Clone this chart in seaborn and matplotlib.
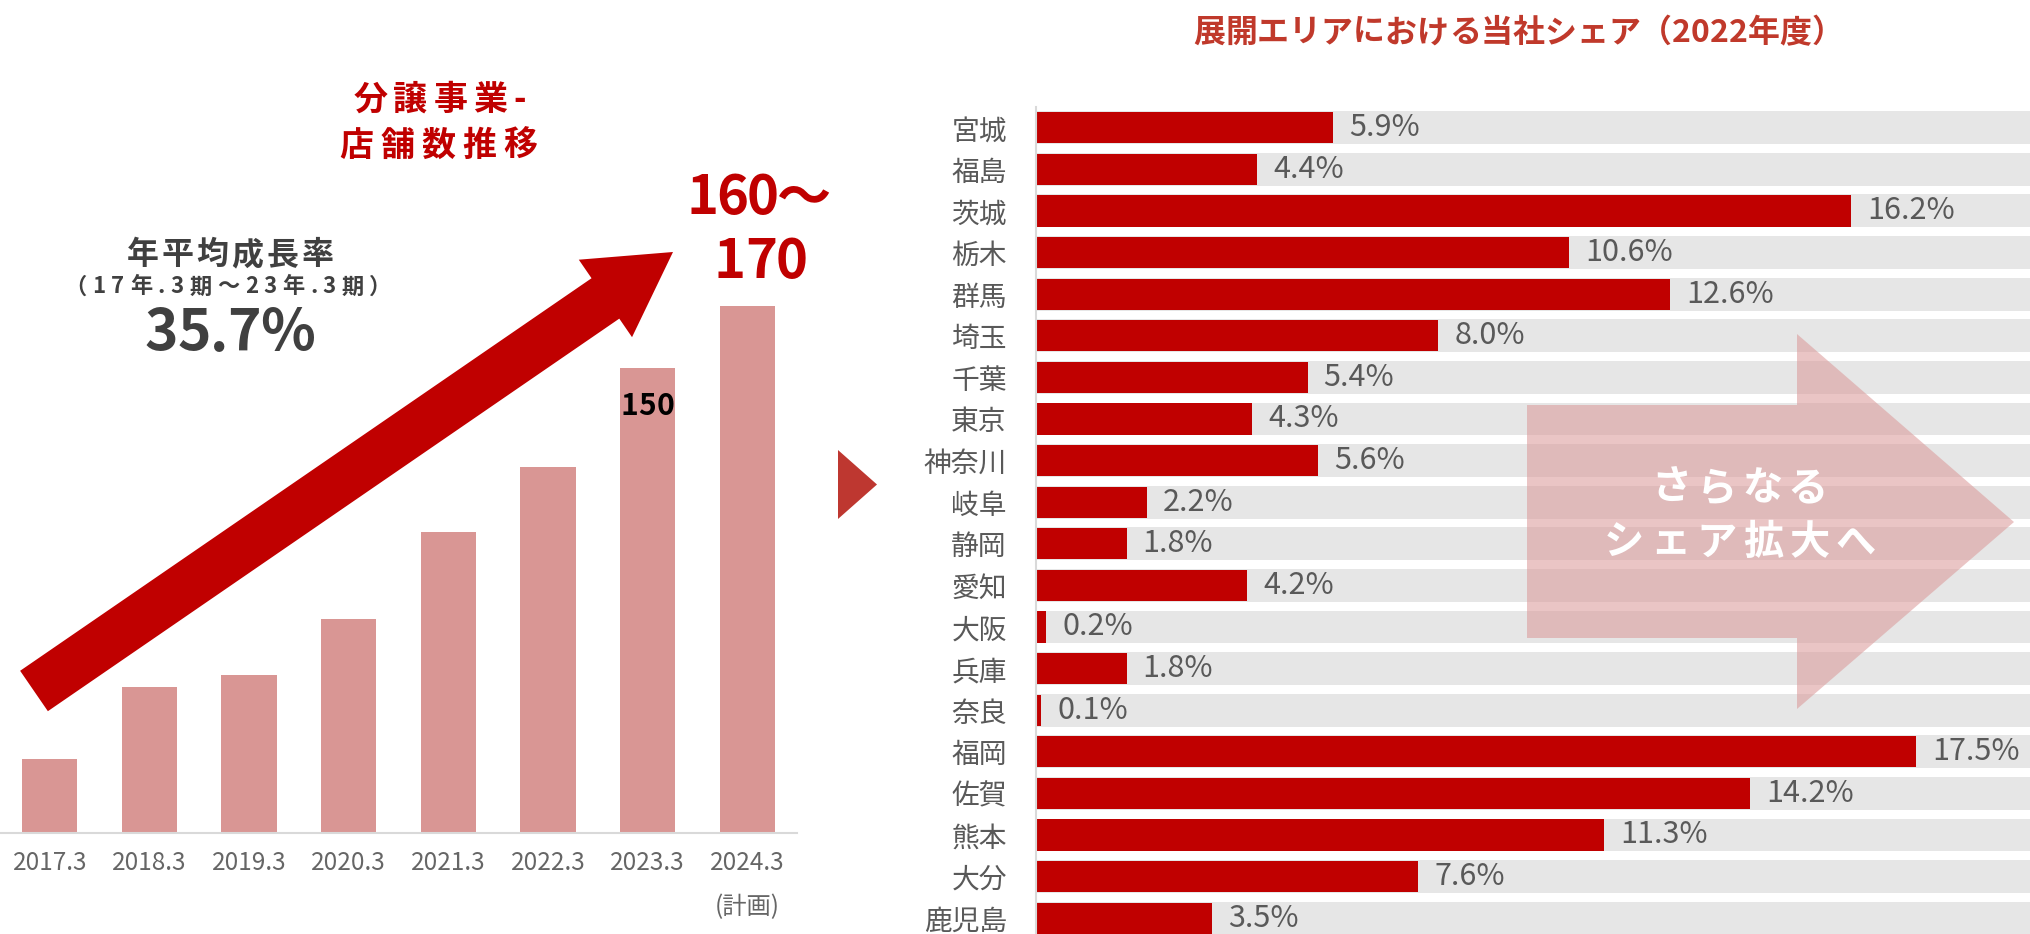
import numpy as np
import pandas as pd
import matplotlib
matplotlib.use("Agg")
import matplotlib.pyplot as plt
import seaborn as sns
from matplotlib.patches import Polygon
from matplotlib.font_manager import FontProperties, findfont, get_font

# ---------------- data ----------------
years = ["2017.3", "2018.3", "2019.3", "2020.3", "2021.3", "2022.3", "2023.3", "2024.3\n(計画)"]
stores = [24, 47, 51, 69, 97, 118, 150, 170]

prefectures = ["宮城", "福島", "茨城", "栃木", "群馬", "埼玉", "千葉", "東京", "神奈川", "岐阜",
               "静岡", "愛知", "大阪", "兵庫", "奈良", "福岡", "佐賀", "熊本", "大分", "鹿児島"]
share = [5.9, 4.4, 16.2, 10.6, 12.6, 8.0, 5.4, 4.3, 5.6, 2.2,
         1.8, 4.2, 0.2, 1.8, 0.1, 17.5, 14.2, 11.3, 7.6, 3.5]
share_track = [100] * len(prefectures)

left_title = ["分譲事業-", "店舗数推移"]
cagr_title = "年平均成長率"
cagr_period = "（17年.3期～23年.3期）"
cagr_value = "35.7%"
plan_text = ["160～", "170"]
bar_note = "150"
right_title = "展開エリアにおける当社シェア（2022年度）"
arrow_text = ["さらなる", "シェア拡大へ"]

# ---------------- setup ----------------
W, H, DPI = 2031, 934, 100
sns.set_theme(style="white")
plt.rcParams["font.family"] = ["Noto Sans CJK JP", "DejaVu Sans"]
fig = plt.figure(figsize=(W / DPI, H / DPI), dpi=DPI)
fig.patch.set_facecolor("white")


def px_axes(x0, y_top, x1, y_bot):
    return fig.add_axes([x0 / W, 1 - y_bot / H, (x1 - x0) / W, (y_bot - y_top) / H])


# ---------------- left chart ----------------
ax1 = px_axes(0, 233, 797, 833)
df1 = pd.DataFrame({"year": years, "stores": stores})
sns.barplot(data=df1, x="year", y="stores", color="#D99694", saturation=1,
            width=0.555, errorbar=None, linewidth=0, ax=ax1)
ax1.set_xlim(-0.5, 7.5)
ax1.set_ylim(0, 600 / 3.1)
ax1.set_facecolor("none")
for s in ["top", "right", "left"]:
    ax1.spines[s].set_visible(False)
ax1.spines["bottom"].set_color("#D9D9D9")
ax1.spines["bottom"].set_linewidth(1.5)
ax1.set_yticks([])
ax1.set_xlabel("")
ax1.set_ylabel("")
ax1.tick_params(axis="x", length=0, pad=12, labelsize=17.5, labelcolor="#666666")
for lbl in ax1.get_xticklabels():
    lbl.set_linespacing(1.9)

# ---------------- right chart ----------------
ax2 = px_axes(1036, 106.9, 2031, 934)
df2 = pd.DataFrame({"pref": prefectures, "share": share, "track": share_track})
sns.barplot(data=df2, y="pref", x="track", color="#E6E6E6", saturation=1,
            width=0.79, errorbar=None, linewidth=0, ax=ax2)
sns.barplot(data=df2, y="pref", x="share", color="#C00000", saturation=1,
            width=0.75, errorbar=None, linewidth=0, ax=ax2)
ax2.set_xlim(0, 995 / 50.3)
ax2.set_ylim(19.38, -0.5)
ax2.set_facecolor("none")
for s in ["top", "right", "bottom"]:
    ax2.spines[s].set_visible(False)
ax2.spines["left"].set_color("#D9D9D9")
ax2.spines["left"].set_linewidth(1.5)
ax2.spines["left"].set_zorder(5)
ax2.set_xticks([])
ax2.set_xlabel("")
ax2.set_ylabel("")
ax2.tick_params(axis="y", length=0, pad=21, labelsize=20, labelcolor="#595959")
for i, v in enumerate(share):
    ax2.annotate(f"{v:.1f}%", xy=(v, i), xytext=(16, 0), textcoords="offset pixels",
                 ha="left", va="center", fontsize=22, color="#595959")

# ---------------- overlay (decorations & free text) ----------------
ov = fig.add_axes([0, 0, 1, 1])
ov.set_xlim(0, W)
ov.set_ylim(H, 0)
ov.axis("off")
ov.patch.set_alpha(0)
ov.set_zorder(10)


def spaced(cx, cy, s, size, track=0.0, color="black", weight="normal", k=0.38, z=12):
    fp = FontProperties(family=["Noto Sans CJK JP"], weight=weight, size=size)
    font = get_font(findfont(fp))
    font.set_size(size, DPI)
    em = size * DPI / 72
    pen = 0.0
    xs, left, right = [], None, None
    for c in s:
        g = font.load_char(ord(c))
        bx = g.horiBearingX / 64
        w = g.width / 64
        xs.append(pen)
        if c.strip():
            l, r = pen + bx, pen + bx + w
            left = l if left is None else min(left, l)
            right = r if right is None else max(right, r)
        pen += g.linearHoriAdvance / 65536 + track
    off = cx - (left + right) / 2
    base = cy + k * em
    for c, x in zip(s, xs):
        if c.strip():
            ov.text(x + off, base, c, ha="left", va="baseline", fontproperties=fp,
                    color=color, zorder=z)


# big red growth arrow
tail = np.array([34.0, 691.0])
tip = np.array([673.0, 252.0])
u = (tip - tail) / np.linalg.norm(tip - tail)
n = np.array([-u[1], u[0]])
hb = tip - u * 82
shaft, head = 24.5, 47
pts = [tail - n * shaft, hb - n * shaft, hb - n * head, tip, hb + n * head, hb + n * shaft, tail + n * shaft]
ov.add_patch(Polygon(pts, closed=True, facecolor="#C00000", edgecolor="none", zorder=11))

# small pointer triangle
ov.add_patch(Polygon([(838, 450), (838, 519), (877, 484.5)], closed=True,
                     facecolor="#BE3730", edgecolor="none", zorder=11))

# translucent block arrow
ov.add_patch(Polygon([(1527, 405), (1797, 405), (1797, 334), (2014, 522),
                      (1797, 709), (1797, 638), (1527, 638)], closed=True,
                     facecolor="#DB9999", alpha=0.56, edgecolor="none", zorder=11))

spaced(439, 97, left_title[0], 24.5, 6, "#C00000", "bold")
spaced(438.5, 143, left_title[1], 24.5, 7, "#C00000", "bold")
spaced(230, 252, cagr_title, 23, 3, "#404040", "bold")
spaced(228, 285, cagr_period, 16, 5.6, "#404040", "bold")
spaced(229.5, 330, cagr_value, 41, -1, "#404040", "bold", k=0.367)
spaced(760, 194, plan_text[0], 39, -2, "#C00000", "bold", k=0.367)
spaced(762, 258, plan_text[1], 39, -1, "#C00000", "bold", k=0.367)
spaced(648, 404, bar_note, 21.6, 0, "black", "bold", k=0.367)
spaced(1508, 30, right_title, 23, 0, "#C0392B", "bold")
spaced(1740, 485, arrow_text[0], 29, 5, "white", "bold")
spaced(1741, 539, arrow_text[1], 29, 6, "white", "bold")

fig.savefig("out.png", dpi=DPI, facecolor="white")
